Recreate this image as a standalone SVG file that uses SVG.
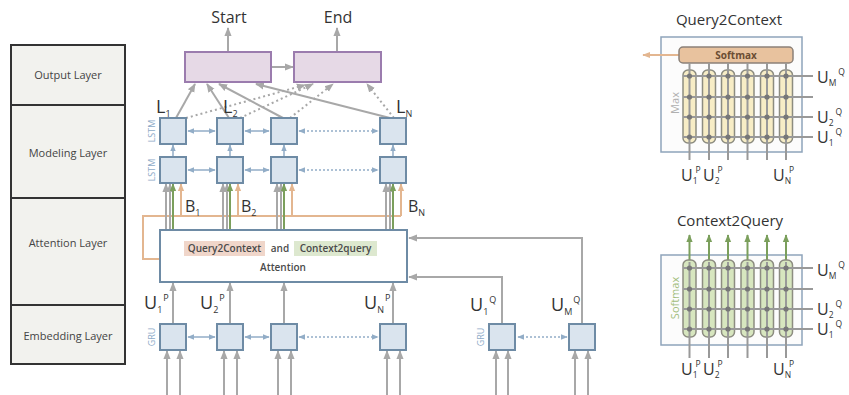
<svg xmlns="http://www.w3.org/2000/svg" width="849" height="395" viewBox="0 0 849 395">
<defs>
<style>
text{font-family:"Open Sans","Liberation Sans",sans-serif;fill:#444}
.lay{fill:#f2f2ee;stroke:#333;stroke-width:2}
.lt{font-size:11px;text-anchor:middle}
.cell{fill:#dae4ee;stroke:#6e8ba5;stroke-width:2}
.out{fill:#e6d9e6;stroke:#9b7cae;stroke-width:2}
.g{stroke:#a8a8a8;stroke-width:2;fill:none}
.gd{stroke:#a8a8a8;stroke-width:2;fill:none;stroke-dasharray:2 3}
.gn{stroke:#7b9f5c;stroke-width:2;fill:none}
.or{stroke:#e3b690;stroke-width:2;fill:none}
.bl{stroke:#92adc7;stroke-width:1.5;fill:none}
.bld{stroke:#92adc7;stroke-width:1.5;fill:none;stroke-dasharray:2 2}
.rl{font-size:9px;fill:#8eabc8;text-anchor:middle}
.big{font-size:18px;fill:#333}
.mid{font-size:16px;fill:#333}
.sm{font-size:9px;fill:#333}
.xs{font-size:8.5px;fill:#333}
.ttl{font-size:15px;fill:#333;text-anchor:middle}
.att{font-size:10px;font-weight:600;fill:#4a4a4a}
.box{fill:#fcfcfc;stroke:#8ea4bb;stroke-width:1.5}
.pq{fill:#f7edc6;stroke:#8c8c80;stroke-width:1.5}
.pc{fill:#d7e6bf;stroke:#8c8c80;stroke-width:1.5}
.gl{stroke:#999;stroke-width:2;fill:none}
.dot{fill:#777}
</style>
<marker id="ag" viewBox="0 0 10 10" refX="9" refY="5" markerUnits="userSpaceOnUse" markerWidth="9" markerHeight="9" orient="auto"><path d="M0,1 L10,5 L0,9 z" fill="#a8a8a8"/></marker>
<marker id="agn" viewBox="0 0 10 10" refX="9" refY="5" markerUnits="userSpaceOnUse" markerWidth="8" markerHeight="8" orient="auto"><path d="M0,1 L10,5 L0,9 z" fill="#7b9f5c"/></marker>
<marker id="aor" viewBox="0 0 10 10" refX="9" refY="5" markerUnits="userSpaceOnUse" markerWidth="8" markerHeight="8" orient="auto"><path d="M0,1 L10,5 L0,9 z" fill="#e3b690"/></marker>
<marker id="abl" viewBox="0 0 10 10" refX="9" refY="5" markerUnits="userSpaceOnUse" markerWidth="7" markerHeight="7" orient="auto-start-reverse"><path d="M0,1 L10,5 L0,9 z" fill="#92adc7"/></marker>
</defs>

<g id="layers">
<rect class="lay" x="11" y="45" width="114" height="319"/>
<line x1="11" y1="105" x2="125" y2="105" stroke="#333" stroke-width="2"/>
<line x1="11" y1="198" x2="125" y2="198" stroke="#333" stroke-width="2"/>
<line x1="11" y1="305" x2="125" y2="305" stroke="#333" stroke-width="2"/>
<text class="lt" x="68" y="79">Output Layer</text>
<text class="lt" x="68" y="157">Modeling Layer</text>
<text class="lt" x="68" y="247">Attention Layer</text>
<text class="lt" x="68" y="340">Embedding Layer</text>
</g>

<g id="connectors">
<line class="g" x1="228" y1="52" x2="228" y2="28" marker-end="url(#ag)"/>
<line class="g" x1="337" y1="52" x2="337" y2="28" marker-end="url(#ag)"/>
<line class="g" x1="271" y1="67" x2="293" y2="67" marker-end="url(#ag)"/>
<line class="g" x1="176" y1="118" x2="195" y2="84" marker-end="url(#ag)"/>
<line class="g" x1="229" y1="118" x2="207" y2="84" marker-end="url(#ag)"/>
<line class="g" x1="283" y1="118" x2="219" y2="84" marker-end="url(#ag)"/>
<line class="g" x1="390" y1="118" x2="256" y2="84" marker-end="url(#ag)"/>
<line class="gd" x1="186" y1="118" x2="305" y2="85" marker-end="url(#ag)"/>
<line class="gd" x1="240" y1="118" x2="313" y2="84" marker-end="url(#ag)"/>
<line class="gd" x1="290" y1="118" x2="333" y2="84" marker-end="url(#ag)"/>
<line class="gd" x1="394" y1="118" x2="367" y2="84" marker-end="url(#ag)"/>
<line class="bl" x1="188" y1="131" x2="215" y2="131" marker-start="url(#abl)" marker-end="url(#abl)"/>
<line class="bl" x1="245" y1="131" x2="269" y2="131" marker-start="url(#abl)" marker-end="url(#abl)"/>
<line class="bld" x1="299" y1="131" x2="378" y2="131" marker-start="url(#abl)" marker-end="url(#abl)"/>
<line class="bl" x1="188" y1="170" x2="215" y2="170" marker-start="url(#abl)" marker-end="url(#abl)"/>
<line class="bl" x1="245" y1="170" x2="269" y2="170" marker-start="url(#abl)" marker-end="url(#abl)"/>
<line class="bld" x1="299" y1="170" x2="378" y2="170" marker-start="url(#abl)" marker-end="url(#abl)"/>
<line class="bl" x1="173" y1="157" x2="173" y2="145" marker-end="url(#abl)"/>
<line class="bl" x1="230" y1="157" x2="230" y2="145" marker-end="url(#abl)"/>
<line class="bl" x1="284" y1="157" x2="284" y2="145" marker-end="url(#abl)"/>
<line class="bl" x1="393" y1="157" x2="393" y2="145" marker-end="url(#abl)"/>
<path class="or" d="M160,259 H143 V216 H401"/>
<line class="g" x1="166" y1="230" x2="166" y2="184" marker-end="url(#ag)"/>
<line class="g" x1="170" y1="230" x2="170" y2="184" marker-end="url(#ag)"/>
<line class="gn" x1="173" y1="230" x2="173" y2="184" marker-end="url(#agn)"/>
<line class="or" x1="181" y1="216" x2="181" y2="184" marker-end="url(#aor)"/>
<line class="g" x1="223" y1="230" x2="223" y2="184" marker-end="url(#ag)"/>
<line class="g" x1="227" y1="230" x2="227" y2="184" marker-end="url(#ag)"/>
<line class="gn" x1="230" y1="230" x2="230" y2="184" marker-end="url(#agn)"/>
<line class="or" x1="238" y1="216" x2="238" y2="184" marker-end="url(#aor)"/>
<line class="g" x1="277" y1="230" x2="277" y2="184" marker-end="url(#ag)"/>
<line class="g" x1="281" y1="230" x2="281" y2="184" marker-end="url(#ag)"/>
<line class="gn" x1="284" y1="230" x2="284" y2="184" marker-end="url(#agn)"/>
<line class="or" x1="292" y1="216" x2="292" y2="184" marker-end="url(#aor)"/>
<line class="g" x1="386" y1="230" x2="386" y2="184" marker-end="url(#ag)"/>
<line class="g" x1="390" y1="230" x2="390" y2="184" marker-end="url(#ag)"/>
<line class="gn" x1="393" y1="230" x2="393" y2="184" marker-end="url(#agn)"/>
<line class="or" x1="401" y1="216" x2="401" y2="184" marker-end="url(#aor)"/>
<line class="g" x1="173" y1="324" x2="173" y2="283" marker-end="url(#ag)"/>
<line class="g" x1="230" y1="324" x2="230" y2="283" marker-end="url(#ag)"/>
<line class="g" x1="284" y1="324" x2="284" y2="283" marker-end="url(#ag)"/>
<line class="g" x1="393" y1="324" x2="393" y2="283" marker-end="url(#ag)"/>
<path class="g" d="M502,324 V277 H409" marker-end="url(#ag)"/>
<path class="g" d="M582,324 V238 H409" marker-end="url(#ag)"/>
<line class="bl" x1="188" y1="337" x2="215" y2="337" marker-start="url(#abl)" marker-end="url(#abl)"/>
<line class="bl" x1="245" y1="337" x2="269" y2="337" marker-start="url(#abl)" marker-end="url(#abl)"/>
<line class="bld" x1="299" y1="337" x2="378" y2="337" marker-start="url(#abl)" marker-end="url(#abl)"/>
<line class="bld" x1="518" y1="337" x2="567" y2="337" marker-start="url(#abl)" marker-end="url(#abl)"/>
<line class="g" x1="167" y1="395" x2="167" y2="351" marker-end="url(#ag)"/>
<line class="g" x1="180" y1="395" x2="180" y2="351" marker-end="url(#ag)"/>
<line class="g" x1="224" y1="395" x2="224" y2="351" marker-end="url(#ag)"/>
<line class="g" x1="237" y1="395" x2="237" y2="351" marker-end="url(#ag)"/>
<line class="g" x1="278" y1="395" x2="278" y2="351" marker-end="url(#ag)"/>
<line class="g" x1="291" y1="395" x2="291" y2="351" marker-end="url(#ag)"/>
<line class="g" x1="387" y1="395" x2="387" y2="351" marker-end="url(#ag)"/>
<line class="g" x1="400" y1="395" x2="400" y2="351" marker-end="url(#ag)"/>
<line class="g" x1="496" y1="395" x2="496" y2="351" marker-end="url(#ag)"/>
<line class="g" x1="508" y1="395" x2="508" y2="351" marker-end="url(#ag)"/>
<line class="g" x1="575" y1="395" x2="575" y2="351" marker-end="url(#ag)"/>
<line class="g" x1="588" y1="395" x2="588" y2="351" marker-end="url(#ag)"/>
</g>

<g id="start-end">
<text class="ttl" x="229" y="23" style="font-size:16px">Start</text>
<text class="ttl" x="338" y="23" style="font-size:16px">End</text>
</g>
<g id="out1"><rect class="out" x="185" y="52" width="86" height="30"/></g>
<g id="out2"><rect class="out" x="294" y="52" width="87" height="30"/></g>

<g id="lstm-top">
<rect class="cell" x="160" y="118" width="26" height="26"/>
<rect class="cell" x="217" y="118" width="26" height="26"/>
<rect class="cell" x="271" y="118" width="26" height="26"/>
<rect class="cell" x="380" y="118" width="26" height="26"/>
<text class="rl" transform="translate(155,131) rotate(-90)">LSTM</text>
</g>
<g id="lstm-bottom">
<rect class="cell" x="160" y="157" width="26" height="26"/>
<rect class="cell" x="217" y="157" width="26" height="26"/>
<rect class="cell" x="271" y="157" width="26" height="26"/>
<rect class="cell" x="380" y="157" width="26" height="26"/>
<text class="rl" transform="translate(155,170) rotate(-90)">LSTM</text>
</g>
<g id="gru-context">
<rect class="cell" x="160" y="324" width="26" height="26"/>
<rect class="cell" x="217" y="324" width="26" height="26"/>
<rect class="cell" x="271" y="324" width="26" height="26"/>
<rect class="cell" x="380" y="324" width="26" height="26"/>
<text class="rl" transform="translate(155,337) rotate(-90)">GRU</text>
</g>
<g id="gru-query">
<rect class="cell" x="489" y="324" width="26" height="26"/>
<rect class="cell" x="569" y="324" width="26" height="26"/>
<text class="rl" transform="translate(484,337) rotate(-90)">GRU</text>
</g>

<g id="labels-L">
<text class="big" x="156" y="113">L<tspan class="sm" dy="4">1</tspan></text>
<text class="big" x="223" y="113">L<tspan class="sm" dy="4">2</tspan></text>
<text class="big" x="396" y="113">L<tspan class="sm" dy="4">N</tspan></text>
</g>
<g id="labels-B">
<text class="big" x="185" y="212" style="font-size:16px">B<tspan class="sm" dy="4">1</tspan></text>
<text class="big" x="241" y="212" style="font-size:16px">B<tspan class="sm" dy="4">2</tspan></text>
<text class="big" x="408" y="212" style="font-size:16px">B<tspan class="sm" dy="4">N</tspan></text>
</g>

<g id="attention">
<rect x="160" y="230" width="247" height="52" fill="#fff" stroke="#6e8ba5" stroke-width="2"/>
<rect x="184" y="241" width="81" height="15" fill="#f0d6ca"/>
<rect x="294" y="241" width="83" height="15" fill="#dde8cf"/>
<text class="att" x="224.5" y="252" text-anchor="middle">Query2Context</text>
<text class="att" x="280" y="252" text-anchor="middle">and</text>
<text class="att" x="335.5" y="252" text-anchor="middle">Context2query</text>
<text class="att" x="283" y="271" text-anchor="middle">Attention</text>
</g>

<g id="labels-U">
<text class="big" x="144" y="309">U<tspan class="sm" dy="4">1</tspan><tspan class="sm" dx="1" dy="-12">P</tspan></text>
<text class="big" x="200" y="309">U<tspan class="sm" dy="4">2</tspan><tspan class="sm" dx="1" dy="-12">P</tspan></text>
<text class="big" x="364" y="309">U<tspan class="sm" dy="4">N</tspan><tspan class="sm" dx="1" dy="-12">P</tspan></text>
<text class="big" x="470" y="311">U<tspan class="sm" dy="4">1</tspan><tspan class="sm" dx="1" dy="-12">Q</tspan></text>
<text class="big" x="551" y="311">U<tspan class="sm" dy="4">M</tspan><tspan class="sm" dx="1" dy="-12">Q</tspan></text>
</g>

<g id="query2context">
<text class="ttl" x="729" y="25">Query2Context</text>
<rect class="box" x="661" y="37" width="141" height="115"/>
<line x1="679" y1="55" x2="643" y2="55" stroke="#e3b690" stroke-width="2" marker-end="url(#aor)"/>
<rect x="679" y="47" width="114" height="16" rx="4" fill="#e8c29e" stroke="#8a8078" stroke-width="1.5"/>
<text x="736" y="58.5" text-anchor="middle" style="font-size:10px;font-weight:700;fill:#6b4d33">Softmax</text>
<text transform="translate(679,103) rotate(-90)" text-anchor="middle" style="font-size:11px;fill:#b0b0b0">Max</text>
<rect class="pq" x="683" y="70" width="13" height="73" rx="5"/>
<rect class="pq" x="702.5" y="70" width="13" height="73" rx="5"/>
<rect class="pq" x="721.5" y="70" width="13" height="73" rx="5"/>
<rect class="pq" x="741" y="70" width="13" height="73" rx="5"/>
<rect class="pq" x="760.5" y="70" width="13" height="73" rx="5"/>
<rect class="pq" x="779.5" y="70" width="13" height="73" rx="5"/>
<path class="gl" d="M689.5,63V160M709,63V160M728,63V160M747.5,63V160M767,63V160M786,63V160"/>
<path class="gl" d="M683,76H813M683,97H813M683,117H813M683,137H813"/>
<g class="dot">
<circle cx="689.5" cy="76" r="2.6"/><circle cx="689.5" cy="97" r="2.6"/><circle cx="689.5" cy="117" r="2.6"/><circle cx="689.5" cy="137" r="2.6"/>
<circle cx="709" cy="76" r="2.6"/><circle cx="709" cy="97" r="2.6"/><circle cx="709" cy="117" r="2.6"/><circle cx="709" cy="137" r="2.6"/>
<circle cx="728" cy="76" r="2.6"/><circle cx="728" cy="97" r="2.6"/><circle cx="728" cy="117" r="2.6"/><circle cx="728" cy="137" r="2.6"/>
<circle cx="747.5" cy="76" r="2.6"/><circle cx="747.5" cy="97" r="2.6"/><circle cx="747.5" cy="117" r="2.6"/><circle cx="747.5" cy="137" r="2.6"/>
<circle cx="767" cy="76" r="2.6"/><circle cx="767" cy="97" r="2.6"/><circle cx="767" cy="117" r="2.6"/><circle cx="767" cy="137" r="2.6"/>
<circle cx="786" cy="76" r="2.6"/><circle cx="786" cy="97" r="2.6"/><circle cx="786" cy="117" r="2.6"/><circle cx="786" cy="137" r="2.6"/>
</g>
<text class="mid" x="817" y="83">U<tspan class="xs" dy="3">M</tspan><tspan class="xs" dx="2" dy="-11">Q</tspan></text>
<text class="mid" x="817" y="123">U<tspan class="xs" dy="3">2</tspan><tspan class="xs" dx="2" dy="-11">Q</tspan></text>
<text class="mid" x="817" y="143">U<tspan class="xs" dy="3">1</tspan><tspan class="xs" dx="2" dy="-11">Q</tspan></text>
<text class="mid" x="681" y="181">U<tspan class="xs" dy="3">1</tspan><tspan class="xs" dx="-2" dy="-11">P</tspan></text>
<text class="mid" x="703" y="181">U<tspan class="xs" dy="3">2</tspan><tspan class="xs" dx="-2" dy="-11">P</tspan></text>
<text class="mid" x="773" y="181">U<tspan class="xs" dy="3">N</tspan><tspan class="xs" dx="-2" dy="-11">P</tspan></text>
</g>

<g id="context2query">
<text class="ttl" x="730" y="226">Context2Query</text>
<rect class="box" x="661" y="255" width="141" height="90"/>
<text transform="translate(679,298) rotate(-90)" text-anchor="middle" style="font-size:11px;fill:#a3be7c">Softmax</text>
<line class="gn" x1="689.5" y1="262" x2="689.5" y2="235" marker-end="url(#agn)"/>
<line class="gn" x1="709" y1="262" x2="709" y2="235" marker-end="url(#agn)"/>
<line class="gn" x1="728" y1="262" x2="728" y2="235" marker-end="url(#agn)"/>
<line class="gn" x1="747.5" y1="262" x2="747.5" y2="235" marker-end="url(#agn)"/>
<line class="gn" x1="767" y1="262" x2="767" y2="235" marker-end="url(#agn)"/>
<line class="gn" x1="786" y1="262" x2="786" y2="235" marker-end="url(#agn)"/>
<rect class="pc" x="683" y="260" width="13" height="77" rx="5"/>
<rect class="pc" x="702.5" y="260" width="13" height="77" rx="5"/>
<rect class="pc" x="721.5" y="260" width="13" height="77" rx="5"/>
<rect class="pc" x="741" y="260" width="13" height="77" rx="5"/>
<rect class="pc" x="760.5" y="260" width="13" height="77" rx="5"/>
<rect class="pc" x="779.5" y="260" width="13" height="77" rx="5"/>
<path class="gl" d="M689.5,262V358M709,262V358M728,262V358M747.5,262V358M767,262V358M786,262V358"/>
<path class="gl" d="M683,268H813M683,289H813M683,309H813M683,329H813"/>
<g class="dot">
<circle cx="689.5" cy="268" r="2.6"/><circle cx="689.5" cy="289" r="2.6"/><circle cx="689.5" cy="309" r="2.6"/><circle cx="689.5" cy="329" r="2.6"/>
<circle cx="709" cy="268" r="2.6"/><circle cx="709" cy="289" r="2.6"/><circle cx="709" cy="309" r="2.6"/><circle cx="709" cy="329" r="2.6"/>
<circle cx="728" cy="268" r="2.6"/><circle cx="728" cy="289" r="2.6"/><circle cx="728" cy="309" r="2.6"/><circle cx="728" cy="329" r="2.6"/>
<circle cx="747.5" cy="268" r="2.6"/><circle cx="747.5" cy="289" r="2.6"/><circle cx="747.5" cy="309" r="2.6"/><circle cx="747.5" cy="329" r="2.6"/>
<circle cx="767" cy="268" r="2.6"/><circle cx="767" cy="289" r="2.6"/><circle cx="767" cy="309" r="2.6"/><circle cx="767" cy="329" r="2.6"/>
<circle cx="786" cy="268" r="2.6"/><circle cx="786" cy="289" r="2.6"/><circle cx="786" cy="309" r="2.6"/><circle cx="786" cy="329" r="2.6"/>
</g>
<text class="mid" x="817" y="276">U<tspan class="xs" dy="3">M</tspan><tspan class="xs" dx="2" dy="-11">Q</tspan></text>
<text class="mid" x="817" y="315">U<tspan class="xs" dy="3">2</tspan><tspan class="xs" dx="2" dy="-11">Q</tspan></text>
<text class="mid" x="817" y="335">U<tspan class="xs" dy="3">1</tspan><tspan class="xs" dx="2" dy="-11">Q</tspan></text>
<text class="mid" x="681" y="375">U<tspan class="xs" dy="3">1</tspan><tspan class="xs" dx="-2" dy="-11">P</tspan></text>
<text class="mid" x="703" y="375">U<tspan class="xs" dy="3">2</tspan><tspan class="xs" dx="-2" dy="-11">P</tspan></text>
<text class="mid" x="773" y="375">U<tspan class="xs" dy="3">N</tspan><tspan class="xs" dx="-2" dy="-11">P</tspan></text>
</g>
</svg>
